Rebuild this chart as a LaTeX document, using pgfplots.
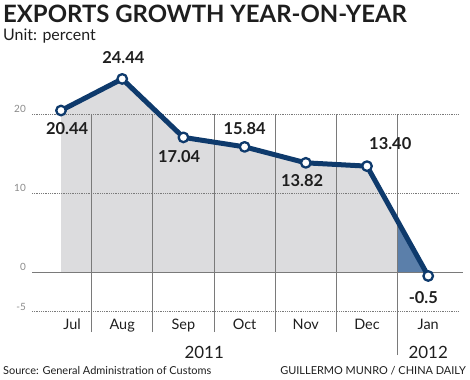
\documentclass[border=0pt]{standalone}
\usepackage{pgfplots}
\usepackage{pgfplotstable}
\pgfplotsset{compat=1.18}
\usepgfplotslibrary{fillbetween}
\usepackage{fontspec}
\setmainfont{Lato}
\definecolor{navy}{HTML}{0E3A6C}
\definecolor{fillgray}{HTML}{DCDCDE}
\definecolor{fillblue}{HTML}{5B7FAA}
\definecolor{gridgray}{HTML}{7A7A7A}
\definecolor{ticktext}{HTML}{8A8A8A}
\definecolor{labeltext}{HTML}{1E1E1E}
\pgfplotstableread{
x y
0 20.44
1 24.44
2 17.04
3 15.84
4 13.82
5 13.40
6 -0.5
}\exports
\begin{document}
\begin{tikzpicture}[x=1bp,y=1bp]
\begin{axis}[
  at={(32bp,47bp)}, anchor=south west, scale only axis,
  width=426bp, height=218bp,
  xmin=-0.474, xmax=6.487, ymin=-7.59, ymax=20,
  clip=false,
  axis line style={draw=none}, major tick length=0,
  xtick={0.18,1,2,3,4,5,6},
  xticklabels={Jul,Aug,Sep,Oct,Nov,Dec,Jan},
  xticklabel style={anchor=base, inner sep=0, yshift=3bp, font=\fontsize{14.5}{14.5}\selectfont, text=labeltext},
  ytick={-5,0,10,20},
  yticklabel style={anchor=east, inner sep=0, xshift=-6bp, yshift=5bp, font=\fontsize{10}{10}\selectfont, text=ticktext},
  /pgf/number format/assume math mode=true,
]
\addplot[draw=none, name path=line, forget plot] table[x=x,y=y] {\exports};
\addplot[draw=none, name path=zero, forget plot] coordinates {(-0.5,0) (6.5,0)};
\addplot[fillgray, draw=none] fill between[of=line and zero, soft clip={domain=0:5.5}];
\addplot[fillblue, draw=none] fill between[of=line and zero, soft clip={domain=5.5:5.964}];
% grid
\draw[gridgray, densely dotted, line width=0.8bp] (axis cs:-0.474,20) -- (axis cs:6.487,20);
\draw[gridgray, densely dotted, line width=0.8bp] (axis cs:-0.474,10) -- (axis cs:6.487,10);
\draw[gridgray, densely dotted, line width=0.8bp] (axis cs:-0.474,-5) -- (axis cs:6.487,-5);
\draw[gridgray, line width=1bp] (axis cs:-0.474,0) -- (axis cs:6.57,0);
\pgfplotsinvokeforeach{0.5,1.5,2.5,3.5,4.5}{
  \draw[gridgray, line width=0.9bp] (axis cs:#1,-7.59) -- (axis cs:#1,20);
}
\draw[gridgray, line width=0.9bp] (axis cs:5.5,-10.5) -- (axis cs:5.5,20);
% line
\addplot[navy, line width=5bp, line join=round, mark=*, mark size=4.8bp,
  mark options={fill=white, draw=navy, line width=2.3bp}] table[x=x,y=y] {\exports};
% labels
\begin{scope}[every node/.style={font=\bfseries\fontsize{16.5}{16.5}\selectfont, text=labeltext, inner sep=0}]
\node at (axis cs:0.1,18.2) {20.44};
\node at (axis cs:1.02,27.1) {24.44};
\node at (axis cs:1.93,14.6) {17.04};
\node at (axis cs:3.0,18.1) {15.84};
\node at (axis cs:3.94,11.6) {13.82};
\node at (axis cs:5.38,16.3) {13.40};
\node at (axis cs:5.92,-3.2) {-0.5};
\end{scope}
\node[anchor=base, inner sep=0, font=\fontsize{17}{17}\selectfont, text=labeltext] at (axis cs:2.34,-10.95) {2011};
\node[anchor=base, inner sep=0, font=\fontsize{17}{17}\selectfont, text=labeltext] at (axis cs:6.0,-10.95) {2012};
\end{axis}
\node[anchor=base west, inner sep=0, font=\bfseries\fontsize{24}{24}\selectfont, text=labeltext] at (3,357) {EXPORTS GROWTH YEAR-ON-YEAR};
\node[anchor=base west, inner sep=0, font=\fontsize{16}{16}\selectfont, text=labeltext] at (3,339) {Unit: percent};
\node[anchor=base west, inner sep=0, font=\fontsize{11}{11}\selectfont, text=labeltext] at (3,5) {Source: General Administration of Customs};
\node[anchor=base east, inner sep=0, font=\fontsize{11}{11}\selectfont, text=labeltext] at (466,5) {GUILLERMO MUNRO / CHINA DAILY};
\path (0,0) rectangle (470,379);
\end{tikzpicture}
\end{document}
